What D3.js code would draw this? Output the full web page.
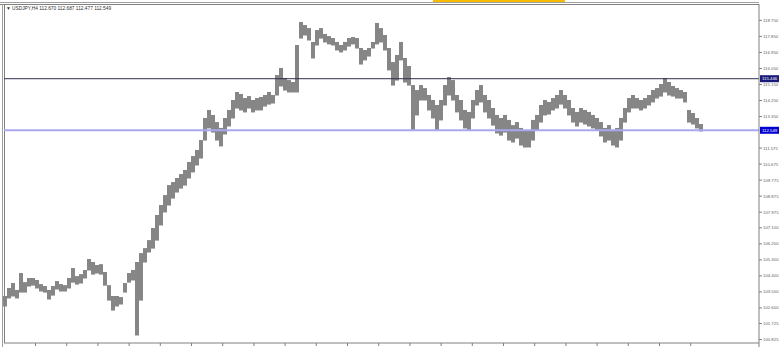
<!DOCTYPE html>
<html lang="en">
<head>
<meta charset="UTF-8">
<title>USDJPY,H4</title>
<script src="https://d3js.org/d3.v7.min.js"></script>
<style>
    body { margin: 0; background: #fff; }
    svg { display: block; font-family: "Liberation Sans", Arial, sans-serif; }
</style>
</head>
<body>
<div id="chart"></div>
<script>
// header values (open, high, low, close of the last bar)
const symbol = "USDJPY,H4";
const lastBar = ["112.670", "112.687", "112.477", "112.549"];

// price axis labels
const priceTicks = [118.750, 117.850, 116.950, 116.050, 115.150, 114.250, 113.350,
    111.575, 110.675, 109.775, 108.875, 107.975, 107.100, 106.200, 105.300,
    104.400, 103.500, 102.600, 101.725, 100.825];

// horizontal lines
const levelLine = 115.446;
const bidLine = 112.549;

const highs = [
    103.24, 103.69, 103.97, 103.58, 104.53, 104.02, 104.25, 104.25, 104.14, 103.91,
    103.80, 103.58, 103.80, 104.08, 103.91, 103.85, 104.25, 104.81, 104.36, 104.47,
    104.70, 105.32, 105.15, 104.98, 105.03, 104.59, 103.85, 103.24, 103.24, 103.18,
    103.97, 104.53, 104.70, 105.15, 105.65, 105.93, 106.38, 107.06, 107.79, 108.35,
    108.91, 109.47, 109.64, 109.87, 110.09, 110.32, 110.77, 111.10, 111.44, 112.00,
    113.24, 113.69, 113.41, 113.01, 112.68, 113.24, 113.69, 114.25, 114.70, 114.59,
    114.36, 114.47, 114.25, 114.36, 114.42, 114.53, 114.70, 114.53, 115.65, 116.05,
    115.49, 115.37, 115.26, 117.34, 118.63, 118.46, 118.29, 117.51, 118.18, 118.29,
    117.96, 117.84, 117.73, 117.51, 117.34, 117.51, 117.73, 117.79, 117.73, 117.17,
    117.06, 117.17, 117.51, 118.58, 118.29, 117.90, 117.17, 116.38, 116.78, 117.51,
    116.61, 116.16, 115.09, 114.81, 115.09, 114.92, 114.53, 114.25, 113.97, 114.25,
    115.09, 115.54, 115.37, 114.53, 114.25, 113.69, 113.58, 114.25, 114.81, 115.09,
    114.53, 114.25, 113.80, 113.41, 113.24, 113.41, 113.13, 112.84, 113.01, 112.68,
    112.56, 112.56, 113.13, 113.41, 113.97, 114.25, 114.14, 114.36, 114.53, 114.81,
    114.53, 114.25, 113.80, 113.58, 113.80, 113.69, 113.58, 113.41, 113.24, 113.01,
    112.68, 112.84, 112.56, 112.68, 113.24, 113.80, 114.36, 114.53, 114.36, 114.25,
    114.36, 114.53, 114.81, 114.92, 115.15, 115.49, 115.26, 115.04, 114.92, 114.81,
    114.70, 113.69, 113.52, 113.24, 112.90
];
const lows = [
    102.68, 103.13, 103.24, 103.13, 103.46, 103.46, 103.80, 103.85, 103.69, 103.52,
    103.46, 103.07, 103.29, 103.63, 103.52, 103.52, 103.69, 104.02, 103.91, 103.97,
    104.25, 104.70, 104.47, 104.53, 104.47, 103.85, 103.01, 102.45, 102.68, 102.79,
    103.46, 104.02, 104.14, 101.05, 103.01, 105.15, 105.71, 105.93, 106.38, 107.23,
    107.96, 108.35, 108.74, 109.08, 109.30, 109.47, 109.87, 110.21, 110.60, 110.99,
    112.00, 112.68, 112.45, 112.00, 111.67, 112.34, 112.79, 113.24, 113.80, 113.69,
    113.58, 113.80, 113.58, 113.69, 113.69, 113.91, 114.02, 114.08, 114.53, 115.04,
    114.81, 114.70, 114.70, 114.70, 117.73, 117.90, 117.62, 116.61, 117.34, 117.73,
    117.51, 117.40, 117.34, 117.06, 116.95, 117.06, 117.28, 117.40, 117.17, 116.27,
    116.50, 116.72, 117.17, 117.40, 117.51, 117.06, 115.94, 115.09, 115.37, 116.50,
    115.26, 115.09, 112.56, 113.41, 114.25, 114.25, 113.69, 113.24, 112.56, 113.13,
    113.97, 114.53, 114.25, 113.58, 113.13, 112.68, 112.56, 113.24, 113.97, 114.14,
    113.58, 113.24, 112.84, 112.40, 112.28, 112.45, 112.00, 111.89, 112.11, 111.72,
    111.61, 111.61, 112.00, 112.56, 113.01, 113.41, 113.46, 113.69, 113.80, 114.02,
    113.80, 113.41, 113.01, 112.79, 113.01, 112.90, 112.79, 112.68, 112.56, 112.23,
    111.89, 112.00, 111.72, 111.61, 112.00, 113.01, 113.58, 113.80, 113.80, 113.69,
    113.80, 113.97, 114.14, 114.36, 114.47, 114.70, 114.53, 114.47, 114.36, 114.36,
    114.14, 113.01, 112.90, 112.68, 112.51
];

const W = 780, H = 347;
const plot = { left: 4, right: 759, top: 5, bottom: 343 };

const svg = d3.select("#chart").append("svg")
    .attr("width", W).attr("height", H);

// terminal toolbar strip at top
svg.append("rect").attr("x", 433).attr("y", 0).attr("width", 132).attr("height", 3)
    .attr("fill", "#f7bb00");

const x = d3.scaleLinear().domain([0, highs.length - 1]).range([5, 701]);
const y = d3.scaleLinear().domain([100.60, 119.53]).range([plot.bottom, 6]);

// frame
svg.append("line").attr("x1", 0).attr("x2", plot.right).attr("y1", 2.5).attr("y2", 2.5)
    .attr("stroke", "#a0a0a0").attr("stroke-width", 1);
svg.append("line").attr("x1", 0).attr("x2", plot.right).attr("y1", 4.5).attr("y2", 4.5)
    .attr("stroke", "#808080").attr("stroke-width", 1);
svg.append("line").attr("x1", 2.5).attr("x2", 2.5).attr("y1", 4).attr("y2", H)
    .attr("stroke", "#a0a0a0");
svg.append("line").attr("x1", 4.5).attr("x2", 4.5).attr("y1", 4).attr("y2", plot.bottom)
    .attr("stroke", "#808080");

// price bars, drawn edge to edge so the band reads as one dense trace
const step = x(1) - x(0);
svg.append("g").selectAll("line").data(highs).join("line")
    .attr("x1", (d, i) => x(i)).attr("x2", (d, i) => x(i))
    .attr("y1", d => y(d)).attr("y2", (d, i) => y(lows[i]) + 0.5)
    .attr("stroke", "#868686").attr("stroke-width", step);

// level lines
svg.append("line").attr("x1", plot.left).attr("x2", plot.right)
    .attr("y1", y(levelLine)).attr("y2", y(levelLine))
    .attr("stroke", "#303050").attr("stroke-width", 1);
svg.append("line").attr("x1", plot.left).attr("x2", plot.right)
    .attr("y1", y(bidLine)).attr("y2", y(bidLine))
    .attr("stroke", "#a8a8f0").attr("stroke-width", 2);

// price axis
const yAxis = d3.axisRight(y).tickValues(priceTicks).tickSize(3).tickPadding(1)
    .tickFormat(d3.format(".3f"));
const ga = svg.append("g").attr("transform", `translate(${plot.right},0)`).call(yAxis);
ga.select(".domain").attr("stroke", "#808080").attr("d", `M0,4V${H}`);
ga.selectAll(".tick line").attr("stroke", "#808080");
ga.selectAll(".tick text").attr("font-size", 4.3).attr("fill", "#606060")
    .attr("font-family", "Liberation Sans, Arial, sans-serif");

// time axis (ticks only; labels are off-frame)
const timeTicks = d3.range(22).map(k => 7.5 + 7.8 * k);
const xAxis = d3.axisBottom(x).tickValues(timeTicks).tickSize(3).tickFormat("");
const gx = svg.append("g").attr("transform", `translate(0,${plot.bottom})`).call(xAxis);
gx.select(".domain").attr("stroke", "#808080").attr("d", `M${plot.left},0H${plot.right}`);
gx.selectAll(".tick line").attr("stroke", "#808080");

// price labels for the two lines
function tag(val, bg) {
    const g = svg.append("g").attr("transform", `translate(${plot.right},${y(val)})`);
    g.append("rect").attr("x", 1).attr("y", -3.5).attr("width", 19).attr("height", 7)
        .attr("fill", bg);
    g.append("text").attr("x", 3).attr("y", 1.6).attr("font-size", 4.3)
        .attr("fill", "#fff").text(d3.format(".3f")(val));
}
tag(levelLine, "#1a1a7a");
tag(bidLine, "#0000d0");

// header
svg.append("text").attr("x", 6).attr("y", 10).attr("font-size", 4.8).attr("fill", "#303030")
    .text("\u25BC " + symbol + "  " + lastBar.join(" "));
</script>
</body>
</html>
